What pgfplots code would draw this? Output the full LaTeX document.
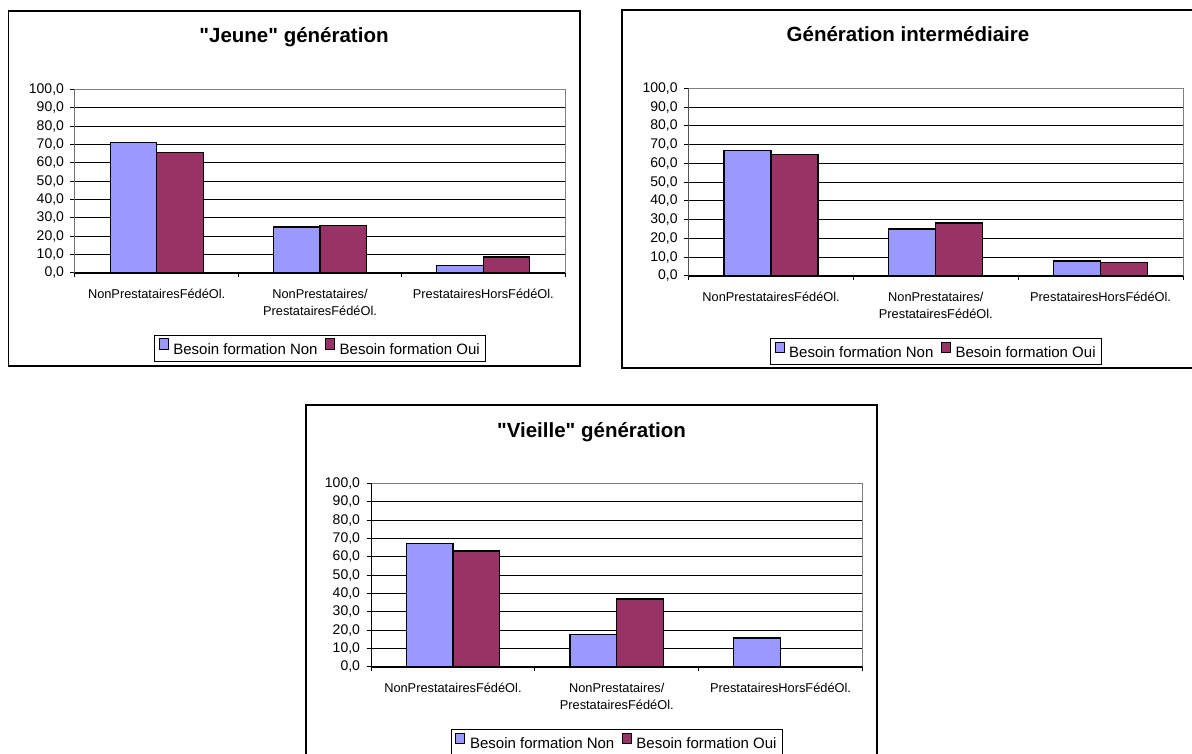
\documentclass[border=0pt]{standalone}
\usepackage{pgfplots}
\pgfplotsset{compat=1.18}
\usepackage{fontspec}
\setmainfont{Liberation Sans}[Ligatures=TeXOff]

\definecolor{barnon}{HTML}{9999FF}
\definecolor{baroui}{HTML}{993366}

\pgfplotsset{
  legsq/.style={legend image code/.code={%
      \draw[##1,line width=1pt] (0pt,0.3pt) rectangle (9pt,10.8pt);
      \path (12pt,0pt);}},
  nonbar/.style={fill=barnon, draw=black, line width=1.2pt, legsq},
  ouibar/.style={fill=baroui, draw=black, line width=1.2pt, legsq},
  genpanel/.style={
    scale only axis, anchor=south west,
    ybar=0pt,
    xmin=-0.5, xmax=2.5, ymin=0, ymax=100,
    xtick={0,1,2},
    xticklabels={NonPrestatairesFédéOl., {NonPrestataires/\\PrestatairesFédéOl.}, PrestatairesHorsFédéOl.},
    minor xtick={-0.5,0.5,1.5,2.5},
    ytick={0,10,...,100},
    tick pos=left, tick align=outside,
    major tick length=4.5pt, minor tick length=4.5pt,
    major x tick style={draw=none},
    minor x tick style={black, line width=1pt},
    ytick style={black, line width=1pt},
    ymajorgrids=true,
    major grid style={black, line width=0.9pt},
    axis line style={draw=gray, line width=1pt},
    yticklabel style={font=\fontsize{14}{16}\selectfont, xshift=-3pt,
      /pgf/number format/fixed, /pgf/number format/fixed zerofill,
      /pgf/number format/precision=1, /pgf/number format/use comma,
      /pgf/number format/assume math mode=true},
    xticklabel style={font=\fontsize{12.8}{16.7}\selectfont, align=center,
      anchor=north, yshift=-8.5pt},
    legend columns=2,
    legend cell align=left,
    legend style={anchor=center, draw=black, line width=0.8pt,
      font=\fontsize{15}{17}\selectfont,
      inner xsep=4pt, inner ysep=3.5pt, nodes={inner sep=1.5pt},
      /tikz/every even column/.append style={column sep=6pt}},
  },
}

\begin{document}
\begin{tikzpicture}[x=1pt,y=1pt]
\path[use as bounding box] (0,0) rectangle (1192,754);
\clip (0,0) rectangle (1192,754);

% frames of the three charts
\draw[line width=1.8pt] (8.4,743.3) rectangle (580.2,388.3);
\draw[line width=1.8pt] (622,744) rectangle (1194,386);
\draw[line width=1.8pt] (306,349) rectangle (877,-7);

% titles
\node[anchor=base, font=\bfseries\fontsize{20.5}{24}\selectfont] at (294,711.3) {"Jeune" génération};
\node[anchor=base, font=\bfseries\fontsize{20.5}{24}\selectfont] at (908,712) {Génération intermédiaire};
\node[anchor=base, font=\bfseries\fontsize{20.5}{24}\selectfont] at (591.5,316.7) {"Vieille" génération};

% "Jeune" generation
\begin{axis}[genpanel, at={(75pt,481pt)}, width=490pt, height=183.7pt,
  bar width=46.5pt, legend style={at={(0.5,-0.408)}}]
\addplot[nonbar] coordinates {(0,70.9) (1,25.0) (2,4.1)};
\addplot[ouibar] coordinates {(0,65.8) (1,25.8) (2,8.7)};
\legend{Besoin formation Non, Besoin formation Oui}
\draw[black, line width=1pt] (rel axis cs:0,0) -- (rel axis cs:0,1);
\draw[black, line width=1pt] (rel axis cs:0,0) -- (rel axis cs:1,0);
\end{axis}

% intermediate generation
\begin{axis}[genpanel, at={(688.7pt,478pt)}, width=494.3pt, height=187.7pt,
  bar width=47pt, legend style={at={(0.5,-0.401)}}]
\addplot[nonbar] coordinates {(0,67.0) (1,25.0) (2,8.0)};
\addplot[ouibar] coordinates {(0,64.8) (1,28.2) (2,7.0)};
\legend{Besoin formation Non, Besoin formation Oui}
\draw[black, line width=1pt] (rel axis cs:0,0) -- (rel axis cs:0,1);
\draw[black, line width=1pt] (rel axis cs:0,0) -- (rel axis cs:1,0);
\end{axis}

% "Vieille" generation (no "Oui" bar for the third category)
\begin{axis}[genpanel, at={(371pt,87pt)}, width=491.5pt, height=183.5pt,
  bar width=46.7pt, legend style={at={(0.5,-0.409)}}]
\addplot[nonbar] coordinates {(0,67.4) (1,17.6) (2,15.8)};
\addplot[ouibar] coordinates {(0,63.2) (1,37.1)};
\legend{Besoin formation Non, Besoin formation Oui}
\draw[black, line width=1pt] (rel axis cs:0,0) -- (rel axis cs:0,1);
\draw[black, line width=1pt] (rel axis cs:0,0) -- (rel axis cs:1,0);
\end{axis}
\end{tikzpicture}
\end{document}
